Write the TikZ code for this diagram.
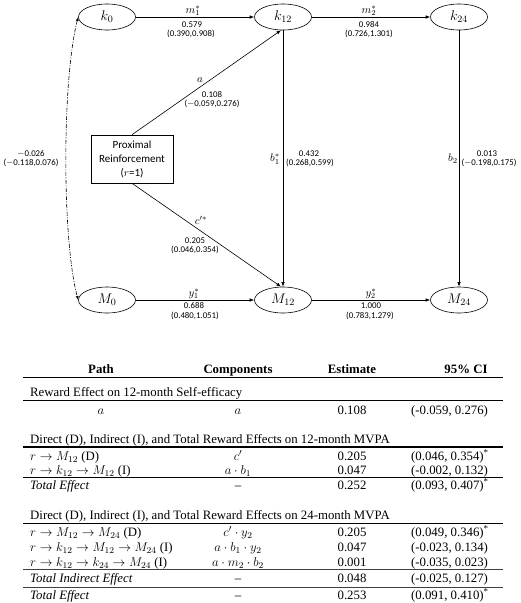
\RequirePackage{fix-cm}
\documentclass[tikz,border=0pt]{standalone}
\usepackage{fontspec}
\setmainfont{Liberation Serif}
\newfontfamily\calfont{Carlito}
\usetikzlibrary{arrows.meta,shapes.geometric}
\tikzset{
  var/.style={ellipse, draw, line width=0.6pt, minimum width=57pt, minimum height=26pt, inner sep=0pt, font=\fontsize{14}{16}\selectfont},
  arr/.style={-{Latex[length=4.5pt,width=3.5pt]}, line width=0.6pt},
  num/.style={font=\calfont\fontsize{8.8}{10}\selectfont, inner sep=0pt, anchor=base},
  plab/.style={font=\fontsize{11}{13}\selectfont, inner sep=0pt},
  tab/.style={font=\fontsize{12.8}{15}\selectfont, inner sep=0pt, anchor=base},
  tabl/.style={tab, anchor=base west},
  heavy/.style={line width=1.5pt},
  light/.style={line width=0.9pt},
}
\begin{document}
\begin{tikzpicture}[x=1pt,y=-1pt]
\useasboundingbox (0,0) rectangle (520,603);
% variables
\node[var] (k0) at (107,17) {$k_0$};
\node[var] (k12) at (283,17) {$k_{12}$};
\node[var] (k24) at (459,17) {$k_{24}$};
\node[var] (M0) at (107,300) {$M_0$};
\node[var] (M12) at (283,300) {$M_{12}$};
\node[var] (M24) at (459,300) {$M_{24}$};
\node[draw, line width=0.6pt, minimum width=82pt, minimum height=48pt, inner sep=0pt, align=center,
      font=\calfont\fontsize{11}{14}\selectfont] (r) at (132,159) {Proximal\\Reinforcement\\($r$=1)};
% connectors
\draw[arr] (k0) -- (k12);
\draw[arr] (k12) -- (k24);
\draw[arr] (M0) -- (M12);
\draw[arr] (M12) -- (M24);
\draw[arr] (r.north) -- ([xshift=-2pt]k12.south);
\draw[arr] (r.south) -- ([xshift=-2pt]M12.north);
\draw[arr] (k12.south) -- (M12.north);
\draw[arr] (k24.south) -- (M24.north);
\draw[{Latex[length=4pt,width=3pt]}-{Latex[length=4pt,width=3pt]}, line width=0.6pt,
      dash pattern=on 4pt off 1.5pt on 1pt off 1.5pt]
  (k0.west) .. controls (62,80) and (62,240) .. (M0.west);
% path labels
\node[plab, anchor=south] (lm1) at (193,16) {$m_1^*$};
\node[num] (lm1a) at (192,27.8) {0.579};
\node[num] (lm1b) at (191,36.8) {(0.390,0.908)};
\node[plab, anchor=south] (lm2) at (369,16) {$m_2^*$};
\node[num] (lm2a) at (369,27.8) {0.984};
\node[num] (lm2b) at (369,36.8) {(0.726,1.301)};
\node[plab] (la) at (200,80) {$a$};
\node[num] (laa) at (212,97.8) {0.108};
\node[num] (lab) at (212,106.8) {($-$0.059,0.276)};
\node[plab] (lb1) at (275,159) {$b_1^*$};
\node[num] (lb1a) at (309,156.8) {0.432};
\node[num] (lb1b) at (310,165.8) {(0.268,0.599)};
\node[plab] (lb2) at (453,159) {$b_2$};
\node[num] (lb2a) at (487,156.8) {0.013};
\node[num] (lb2b) at (489,165.8) {($-$0.198,0.175)};
\node[num] (lcova) at (31,156.8) {$-$0.026};
\node[num] (lcovb) at (31,165.8) {($-$0.118,0.076)};
\node[plab] (lc) at (201,220) {$c'^{*}$};
\node[num] (lca) at (195,243.8) {0.205};
\node[num] (lcb) at (195,252.8) {(0.046,0.354)};
\node[plab, anchor=south] (ly1) at (194,299) {$y_1^*$};
\node[num] (ly1a) at (194,308.8) {0.688};
\node[num] (ly1b) at (195,318.8) {(0.480,1.051)};
\node[plab, anchor=south] (ly2) at (371,299) {$y_2^*$};
\node[num] (ly2a) at (371,308.8) {1.000};
\node[num] (ly2b) at (370,318.8) {(0.783,1.279)};
% table
\node[tab] (h1) at (101,373.5) {\textbf{Path}};
\node[tab] (h2) at (238,373.5) {\textbf{Components}};
\node[tab] (h3) at (352,373.5) {\textbf{Estimate}};
\node[tab] (h4) at (466,373.5) {\textbf{95\% CI}};
\draw[heavy] (23,377.5) -- (503,377.5);
\node[tabl] (s1) at (30,396.5) {Reward Effect on 12-month Self-efficacy};
\draw[heavy] (23,400.5) -- (503,400.5);
\node[tab] (r1a) at (101,414.5) {$a$};
\node[tab] (r1b) at (238,414.5) {$a$};
\node[tab] (r1c) at (352,414.5) {0.108};
\node[tabl] (r1d) at (411,414.5) {(-0.059, 0.276)};
\node[tabl] (s2) at (30,443.5) {Direct (D), Indirect (I), and Total Reward Effects on 12-month MVPA};
\draw[heavy] (23,447) -- (503,447);
\node[tabl] (r2a) at (30,460.5) {$r\rightarrow M_{12}$ (D)};
\node[tab] (r2b) at (238,460.5) {$c'$};
\node[tab] (r2c) at (352,460.5) {0.205};
\node[tabl] (r2d) at (411,460.5) {(0.046, 0.354)\textsuperscript{*}};
\node[tabl] (r3a) at (30,474.5) {$r\rightarrow k_{12}\rightarrow M_{12}$ (I)};
\node[tab] (r3b) at (238,474.5) {$a\cdot b_1$};
\node[tab] (r3c) at (352,474.5) {0.047};
\node[tabl] (r3d) at (411,474.5) {(-0.002, 0.132)};
\draw[light] (23,477) -- (503,477);
\node[tabl] (r4a) at (30,489.5) {\textit{Total Effect}};
\node[tab] (r4b) at (238,489.5) {–};
\node[tab] (r4c) at (352,489.5) {0.252};
\node[tabl] (r4d) at (411,489.5) {(0.093, 0.407)\textsuperscript{*}};
\node[tabl] (s3) at (30,519.5) {Direct (D), Indirect (I), and Total Reward Effects on 24-month MVPA};
\draw[heavy] (23,523.5) -- (503,523.5);
\node[tabl] (r5a) at (30,536.5) {$r\rightarrow M_{12}\rightarrow M_{24}$ (D)};
\node[tab] (r5b) at (238,536.5) {$c'\cdot y_2$};
\node[tab] (r5c) at (352,536.5) {0.205};
\node[tabl] (r5d) at (411,536.5) {(0.049, 0.346)\textsuperscript{*}};
\node[tabl] (r6a) at (30,551.5) {$r\rightarrow k_{12}\rightarrow M_{12}\rightarrow M_{24}$ (I)};
\node[tab] (r6b) at (238,551.5) {$a\cdot b_1\cdot y_2$};
\node[tab] (r6c) at (352,551.5) {0.047};
\node[tabl] (r6d) at (411,551.5) {(-0.023, 0.134)};
\node[tabl] (r7a) at (30,566.5) {$r\rightarrow k_{12}\rightarrow k_{24}\rightarrow M_{24}$ (I)};
\node[tab] (r7b) at (238,566.5) {$a\cdot m_2\cdot b_2$};
\node[tab] (r7c) at (352,566.5) {0.001};
\node[tabl] (r7d) at (411,566.5) {(-0.035, 0.023)};
\draw[light, black!75] (23,569.5) -- (503,569.5);
\node[tabl] (r8a) at (30,582.5) {\textit{Total Indirect Effect}};
\node[tab] (r8b) at (238,582.5) {–};
\node[tab] (r8c) at (352,582.5) {0.048};
\node[tabl] (r8d) at (411,582.5) {(-0.025, 0.127)};
\draw[light, black!75] (23,587) -- (503,587);
\node[tabl] (r9a) at (30,599.5) {\textit{Total Effect}};
\node[tab] (r9b) at (238,599.5) {–};
\node[tab] (r9c) at (352,599.5) {0.253};
\node[tabl] (r9d) at (411,599.5) {(0.091, 0.410)\textsuperscript{*}};
\end{tikzpicture}
\end{document}
